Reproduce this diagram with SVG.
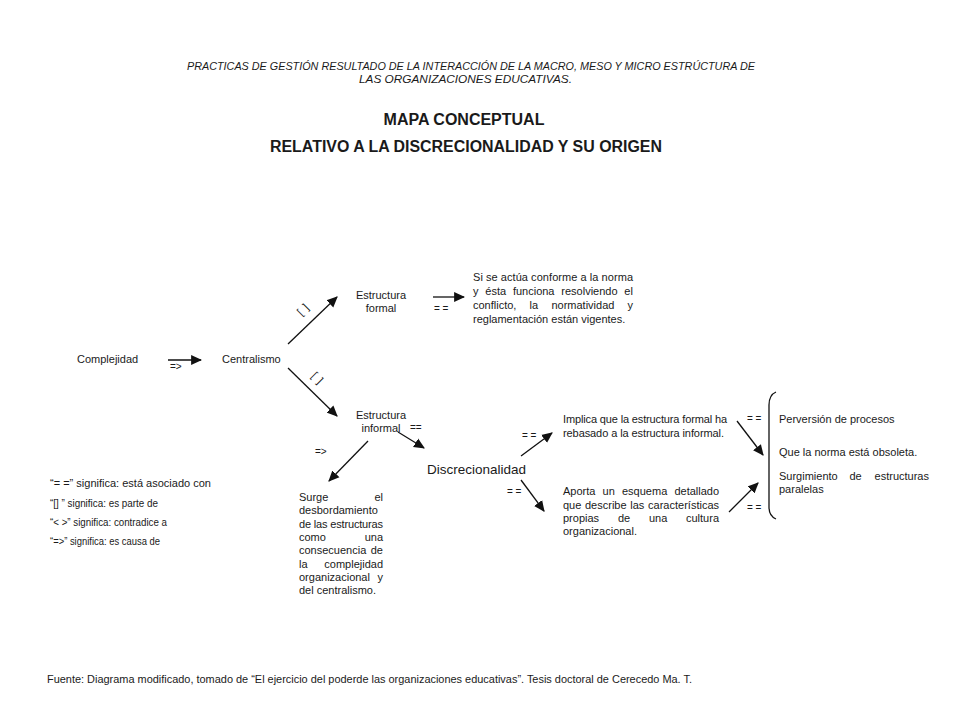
<svg xmlns="http://www.w3.org/2000/svg" width="960" height="720" viewBox="0 0 960 720">
<defs>
<marker id="ah" viewBox="0 0 10 10" refX="9" refY="5" markerWidth="11" markerHeight="11" markerUnits="userSpaceOnUse" orient="auto">
<path d="M0,0.5 L10,5 L0,9.5 Z" fill="#111"/>
</marker>
<style>
text{font-family:"Liberation Sans",Arial,sans-serif;fill:#1a1a1a}
.t{font-size:11px}
.s{font-size:10px}
.hdr{font-size:10px;font-style:italic}
.ttl{font-size:16px;font-weight:bold}
.big{font-size:13.5px}
.e{text-anchor:end}
.m{text-anchor:middle}
.c line,.c path{stroke:#111;stroke-width:1.3;fill:none}
</style>
</defs>
<rect width="960" height="720" fill="#fff"/>

<g id="header">
<text class="hdr" x="187" y="70" textLength="568" lengthAdjust="spacingAndGlyphs">PRACTICAS DE GESTIÓN RESULTADO DE LA INTERACCIÓN DE LA MACRO, MESO Y MICRO ESTRÚCTURA DE</text>
<text class="hdr" x="359" y="83" textLength="213" lengthAdjust="spacingAndGlyphs">LAS ORGANIZACIONES EDUCATIVAS.</text>
<text class="ttl m" x="464" y="125">MAPA CONCEPTUAL</text>
<text class="ttl" x="270" y="152" textLength="392" lengthAdjust="spacingAndGlyphs">RELATIVO A LA DISCRECIONALIDAD Y SU ORIGEN</text>
</g>

<g class="c" id="connectors">
<line x1="168" y1="360" x2="201" y2="360" marker-end="url(#ah)"/>
<line x1="288" y1="344" x2="337" y2="297" marker-end="url(#ah)"/>
<line x1="288" y1="368" x2="337" y2="416" marker-end="url(#ah)"/>
<line x1="433" y1="297" x2="464" y2="297" marker-end="url(#ah)"/>
<line x1="398" y1="432" x2="424" y2="448" marker-end="url(#ah)"/>
<line x1="368" y1="441" x2="329" y2="481" marker-end="url(#ah)"/>
<line x1="521" y1="456" x2="552" y2="433" marker-end="url(#ah)"/>
<line x1="521" y1="480" x2="544" y2="511" marker-end="url(#ah)"/>
<line x1="737" y1="421" x2="763" y2="455" marker-end="url(#ah)"/>
<line x1="729" y1="512" x2="758" y2="483" marker-end="url(#ah)"/>
<path d="M776,392 Q769,395 769,405 L769,507 Q769,516 776,519" stroke-width="1"/>
</g>

<g id="connector-labels">
<text class="s" x="170" y="370">=&gt;</text>
<text class="t m" transform="translate(303,309) rotate(-45)" y="4" letter-spacing="1">[ ]</text>
<text class="t m" transform="translate(318,378) rotate(45)" y="4" letter-spacing="1">[ ]</text>
<text class="s" x="434" y="312">= =</text>
<text class="s" x="410" y="431">==</text>
<text class="s" x="315" y="455">=&gt;</text>
<text class="s" x="522" y="439">= =</text>
<text class="s" x="507" y="495">= =</text>
<text class="s" x="747" y="422">= =</text>
<text class="s" x="747" y="511">= =</text>
</g>

<g id="complejidad"><text class="t" x="77" y="363">Complejidad</text></g>
<g id="centralismo"><text class="t" x="222" y="363">Centralismo</text></g>
<g id="estructura-formal">
<text class="t m" x="381" y="299">Estructura</text>
<text class="t m" x="381" y="312">formal</text>
</g>
<g id="estructura-informal">
<text class="t m" x="381" y="419">Estructura</text>
<text class="t m" x="381" y="432">informal</text>
</g>
<g id="vigentes">
<text class="t" x="473" y="281" textLength="160" lengthAdjust="spacing">Si se actúa conforme a la norma</text>
<text class="t" y="295"><tspan x="473">y</tspan><tspan x="485.3">ésta</tspan><tspan x="512.9">funciona</tspan><tspan x="561.3">resolviendo</tspan><tspan x="624.3">el</tspan></text>
<text class="t" y="309"><tspan x="473">conflicto,</tspan><tspan x="529.6">la</tspan><tspan x="551.4">normatividad</tspan><tspan x="627.6">y</tspan></text>
<text class="t" x="473" y="323">reglamentación están vigentes.</text>
</g>
<g id="discrecionalidad"><text class="big" x="427" y="474" textLength="99" lengthAdjust="spacingAndGlyphs">Discrecionalidad</text></g>
<g id="surge">
<text class="t" x="299" y="501">Surge</text><text class="t e" x="383" y="501">el</text>
<text class="t" x="299" y="514">desbordamiento</text>
<text class="t" x="299" y="528" textLength="84" lengthAdjust="spacing">de las estructuras</text>
<text class="t" x="299" y="541">como</text><text class="t e" x="383" y="541">una</text>
<text class="t" x="299" y="554">consecuencia</text><text class="t e" x="383" y="554">de</text>
<text class="t" x="299" y="568">la</text><text class="t e" x="383" y="568">complejidad</text>
<text class="t" x="299" y="581">organizacional</text><text class="t e" x="383" y="581">y</text>
<text class="t" x="299" y="594">del centralismo.</text>
</g>
<g id="implica">
<text class="t" x="563" y="423" textLength="164" lengthAdjust="spacing">Implica que la estructura formal ha</text>
<text class="t" x="563" y="437" textLength="161" lengthAdjust="spacing">rebasado a la estructura informal.</text>
</g>
<g id="aporta">
<text class="t" y="495"><tspan x="563">Aporta</tspan><tspan x="602.6">un</tspan><tspan x="622">esquema</tspan><tspan x="674.4">detallado</tspan></text>
<text class="t" y="509"><tspan x="563">que</tspan><tspan x="585">describe</tspan><tspan x="630.3">las</tspan><tspan x="648.1">características</tspan></text>
<text class="t" y="522"><tspan x="563">propias</tspan><tspan x="617.9">de</tspan><tspan x="648.9">una</tspan><tspan x="686">cultura</tspan></text>
<text class="t" x="563" y="535">organizacional.</text>
</g>
<g id="consecuencias">
<text class="t" x="779" y="423">Perversión de procesos</text>
<text class="t" x="779" y="456">Que la norma está obsoleta.</text>
<text class="t" y="480"><tspan x="779">Surgimiento</tspan><tspan x="849.5">de</tspan></text><text class="t e" x="929" y="480">estructuras</text>
<text class="t" x="779" y="493">paralelas</text>
</g>

<g id="legend">
<text class="s" x="50" y="487" textLength="161" lengthAdjust="spacingAndGlyphs">“= =” significa: está asociado con</text>
<text class="s" x="50" y="507" textLength="108" lengthAdjust="spacingAndGlyphs">“[] ” significa: es parte de</text>
<text class="s" x="50" y="526" textLength="117" lengthAdjust="spacingAndGlyphs">“&lt; &gt;” significa: contradice a</text>
<text class="s" x="50" y="545" textLength="110" lengthAdjust="spacingAndGlyphs">“=&gt;” significa: es causa de</text>
</g>

<g id="footer">
<text class="s" x="47" y="683" textLength="645" lengthAdjust="spacingAndGlyphs">Fuente: Diagrama modificado, tomado de “El ejercicio del poderde las organizaciones educativas”. Tesis doctoral de Cerecedo Ma. T.</text>
</g>
</svg>
